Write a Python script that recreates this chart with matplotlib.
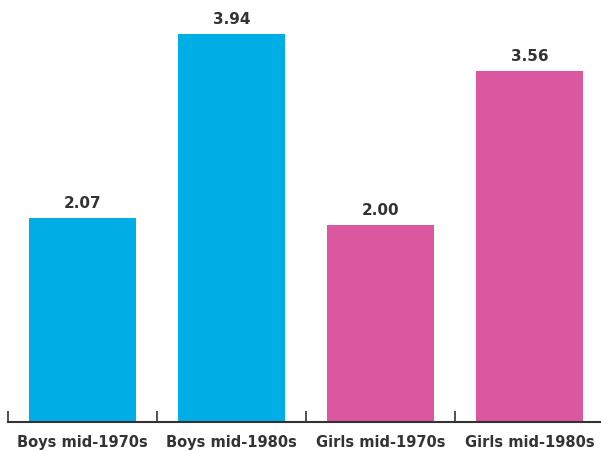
import matplotlib
matplotlib.use("Agg")
from matplotlib import pyplot as plt
import numpy as np

categories = ["Boys mid-1970s", "Boys mid-1980s", "Girls mid-1970s", "Girls mid-1980s"]
values = [2.07, 3.94, 2.00, 3.56]
colors = ["#00AEE6", "#00AEE6", "#DB57A0", "#DB57A0"]

fig = plt.figure(figsize=(6.01, 4.52), dpi=100)
ax = fig.add_axes([8 / 601, 1 - 423 / 452, 596 / 601, 414 / 452])

x = np.arange(len(categories))
bars = ax.bar(x, values, width=0.717, color=colors, zorder=2)

for xi, v in zip(x, values):
    ax.text(xi, v + 0.08, f"{v:.2f}", ha="center", va="bottom",
            fontsize=11, fontweight="bold", color="#333333")

ax.set_xlim(-0.5, 3.5)
ax.set_ylim(0, 4.2)
ax.set_yticks([])
ax.set_xticks(np.arange(-0.5, 4.0, 1.0))
ax.set_xticklabels([])
ax.set_xticks(x, minor=True)
ax.set_xticklabels(categories, minor=True, fontsize=10.5, fontweight="bold",
                   color="#333333")
ax.tick_params(axis="x", which="major", direction="in", length=8, width=1.2,
               color="#333333")
ax.tick_params(axis="x", which="minor", length=0, pad=9)

for side in ["top", "right", "left"]:
    ax.spines[side].set_visible(False)
ax.spines["bottom"].set_color("#333333")
ax.spines["bottom"].set_linewidth(1.5)

fig.savefig("out.png", dpi=100)
